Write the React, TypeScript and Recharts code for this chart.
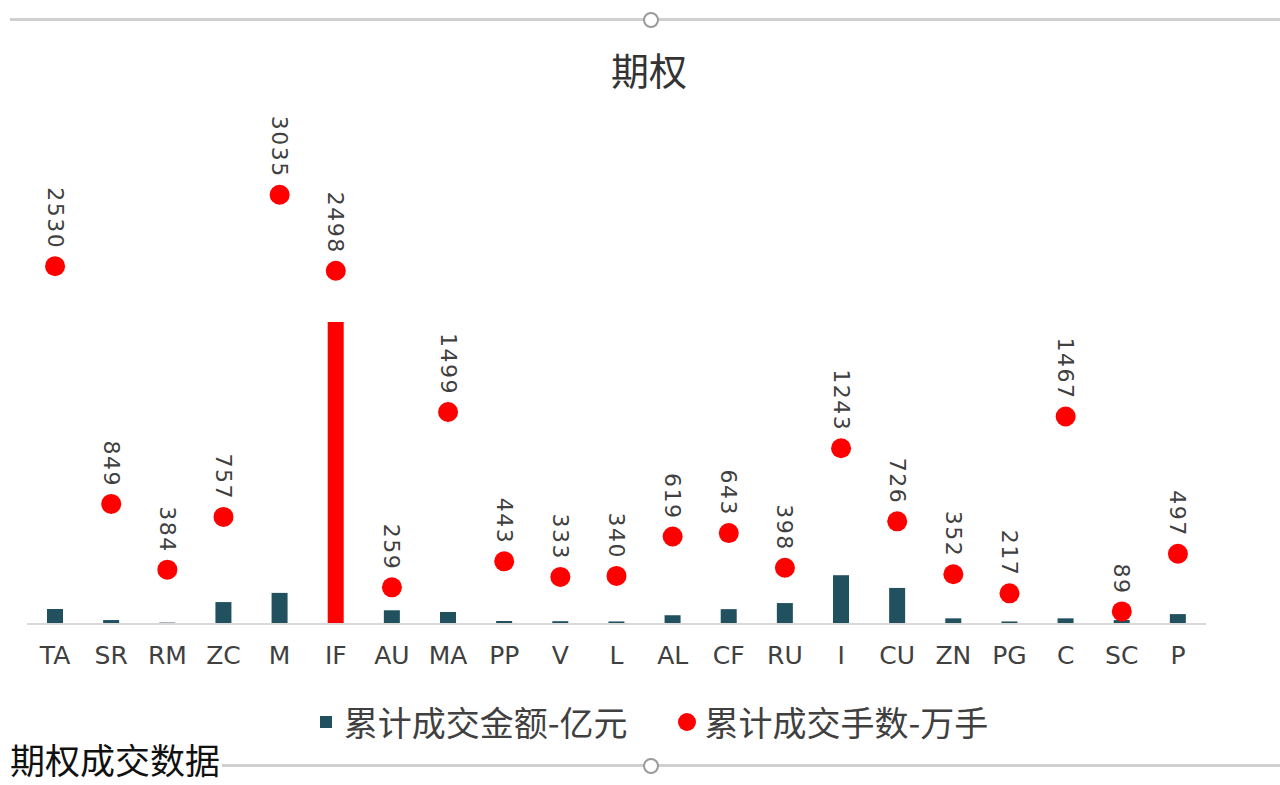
import { ComposedChart, Bar, Line, XAxis, YAxis, Cell, LabelList } from "recharts";

const categories = ["TA", "SR", "RM", "ZC", "M", "IF", "AU", "MA", "PP", "V", "L", "AL", "CF", "RU", "I", "CU", "ZN", "PG", "C", "SC", "P"];
// 累计成交金额-亿元
const amount = [106, 28, 10, 155, 220, 2135, 97, 85, 22, 20, 18, 62, 105, 148, 345, 255, 40, 18, 40, 28, 70];
// 累计成交手数-万手
const lots = [2530, 849, 384, 757, 3035, 2498, 259, 1499, 443, 333, 340, 619, 643, 398, 1243, 726, 352, 217, 1467, 89, 497];

const TEAL = "#21505f";
const RED = "#ff0000";
const TEXT = "#404040";
const FONT = "'DejaVu Sans', sans-serif";
const CJK = "'Noto Sans CJK SC', sans-serif";

const data = categories.map((name, i) => ({ name, amount: amount[i], lots: lots[i] }));

function DotLabel(props: any) {
  const { x, y, value } = props;
  const ax = x;
  const ay = y - 17;
  return (
    <text
      x={ax}
      y={ay}
      transform={`rotate(90 ${ax} ${ay})`}
      textAnchor="end"
      dominantBaseline="central"
      fill={TEXT}
      fontSize={22}
      letterSpacing={1.5}
      fontFamily={FONT}
    >
      {value}
    </text>
  );
}

export default function App() {
  return (
    <div style={{ position: "fixed", left: 0, top: 0, width: 1280, height: 785, background: "#fff", overflow: "hidden" }}>
      {/* frame lines with handles */}
      <div style={{ position: "absolute", left: 10, top: 18, width: 1270, height: 3, background: "#cfcfcf" }} />
      <div style={{ position: "absolute", left: 643, top: 12, width: 12, height: 12, borderRadius: 8, border: "2px solid #9a9a9a", background: "#fff" }} />
      <div style={{ position: "absolute", left: 10, top: 764, width: 1270, height: 3, background: "#cfcfcf" }} />
      <div style={{ position: "absolute", left: 643, top: 758, width: 12, height: 12, borderRadius: 8, border: "2px solid #9a9a9a", background: "#fff" }} />

      <div style={{ position: "absolute", left: 0, top: 45, width: 1298, textAlign: "center", fontFamily: CJK, fontSize: 38, color: "#333", lineHeight: "48px" }}>
        期权
      </div>

      <div style={{ position: "absolute", left: 0, top: 0 }}>
        <ComposedChart width={1280} height={785} data={data} margin={{ top: 129, right: 74, bottom: 121, left: 27 }}>
          <XAxis
            dataKey="name"
            interval={0}
            tickLine={false}
            axisLine={{ stroke: "#d9d9d9", strokeWidth: 2 }}
            tick={{ fill: TEXT, fontSize: 25, fontFamily: FONT }}
            tickMargin={16}
            height={40}
          />
          <YAxis hide domain={[0, 3500]} />
          <Bar dataKey="amount" barSize={16} fill={TEAL} isAnimationActive={false}>
            {data.map((d) => (
              <Cell key={d.name} fill={d.name === "IF" ? RED : TEAL} />
            ))}
          </Bar>
          <Line
            dataKey="lots"
            stroke="none"
            dot={{ r: 10, fill: RED, stroke: "none" }}
            activeDot={false}
            isAnimationActive={false}
          >
            <LabelList dataKey="lots" content={<DotLabel />} />
          </Line>
        </ComposedChart>
      </div>

      {/* legend */}
      <div style={{ position: "absolute", left: 0, top: 697, width: 1308, display: "flex", justifyContent: "center", alignItems: "center", fontFamily: CJK, fontSize: 34, color: TEXT }}>
        <span style={{ display: "inline-block", width: 12, height: 12, background: TEAL, marginRight: 12 }} />
        <span>累计成交金额-亿元</span>
        <span style={{ display: "inline-block", width: 18, height: 18, borderRadius: 9, background: RED, marginLeft: 50, marginRight: 9 }} />
        <span>累计成交手数-万手</span>
      </div>

      <div style={{ position: "absolute", left: 10, top: 733, fontFamily: CJK, fontSize: 35, color: "#111", background: "#fff", lineHeight: "normal", paddingRight: 2 }}>
        期权成交数据
      </div>
    </div>
  );
}
